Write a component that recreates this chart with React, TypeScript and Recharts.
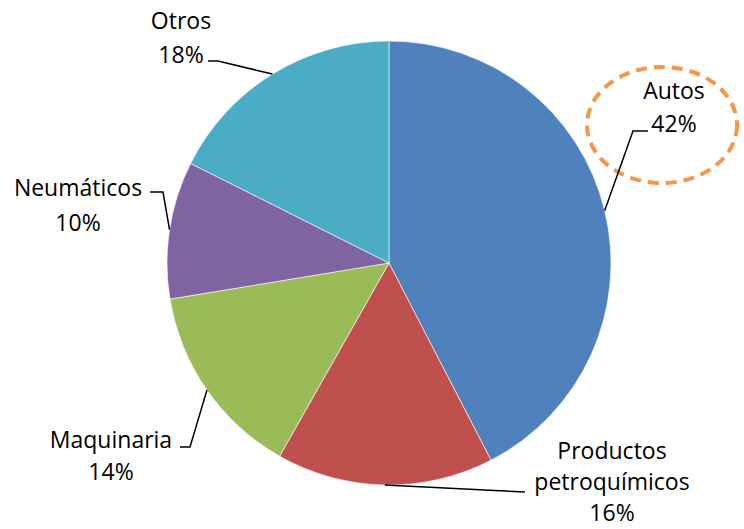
import React from "react";
import { PieChart, Pie, Cell } from "recharts";

const categories = ["Autos", "Productos petroquímicos", "Maquinaria", "Neumáticos", "Otros"];
const labelLines = [["Autos"], ["Productos", "petroquímicos"], ["Maquinaria"], ["Neumáticos"], ["Otros"]];
const values = [42.4, 15.8, 14.2, 10.0, 17.6];
const colors = ["#4F81BD", "#C0504D", "#9BBB59", "#8064A2", "#4BACC6"];

const data = categories.map((name, i) => ({ name, value: values[i] }));

// label layout: elbow point, line end, text center x, first baseline, line spacing
const LABEL_LAYOUT = [
  { elbow: [633, 131], end: [648, 131], tx: 674, ty: 99, gap: 33 },
  { elbow: null, end: [525, 492], tx: 612, ty: 459, gap: 31 },
  { elbow: [190, 447], end: [180, 447], tx: 111, ty: 448, gap: 32 },
  { elbow: [163, 192], end: [150, 192], tx: 78, ty: 196, gap: 35 },
  { elbow: [218, 61], end: [208, 61], tx: 181, ty: 29, gap: 34 },
];

const RAD = Math.PI / 180;

const renderLabel = (props: any) => {
  const { cx, cy, midAngle, outerRadius, index, percent } = props;
  const sx = cx + outerRadius * Math.cos(-midAngle * RAD);
  const sy = cy + outerRadius * Math.sin(-midAngle * RAD);
  const L = LABEL_LAYOUT[index];
  const pts = [[sx, sy]];
  if (L.elbow) pts.push(L.elbow);
  pts.push(L.end);
  const lines = [...labelLines[index], `${Math.round(percent * 100)}%`];
  return (
    <g key={`lbl-${index}`}>
      {index === 0 && (
        <ellipse
          cx={662}
          cy={125}
          rx={75}
          ry={58}
          fill="none"
          stroke="#F79646"
          strokeWidth={4}
          strokeDasharray="11 7"
        />
      )}
      <polyline
        points={pts.map((p) => p.join(",")).join(" ")}
        fill="none"
        stroke="#000"
        strokeWidth={1.5}
      />
      {lines.map((t, i) => (
        <text
          key={i}
          x={L.tx}
          y={L.ty + i * L.gap}
          textAnchor="middle"
          fontFamily="Open Sans"
          fontSize={23}
          fill="#000"
        >
          {t}
        </text>
      ))}
    </g>
  );
};

export default function App() {
  return (
    <div style={{ position: "absolute", left: 0, top: 0, width: 744, height: 529, background: "#fff" }}>
      <PieChart width={744} height={529} margin={{ top: 0, right: 0, bottom: 0, left: 0 }}>
        <Pie
          data={data}
          dataKey="value"
          nameKey="name"
          cx={389}
          cy={263}
          outerRadius={222}
          startAngle={90}
          endAngle={-270}
          stroke="#ffffff"
          strokeWidth={0.6}
          label={renderLabel}
          labelLine={false}
          isAnimationActive={false}
        >
          {data.map((d, i) => (
            <Cell key={d.name} fill={colors[i]} />
          ))}
        </Pie>
      </PieChart>
    </div>
  );
}
